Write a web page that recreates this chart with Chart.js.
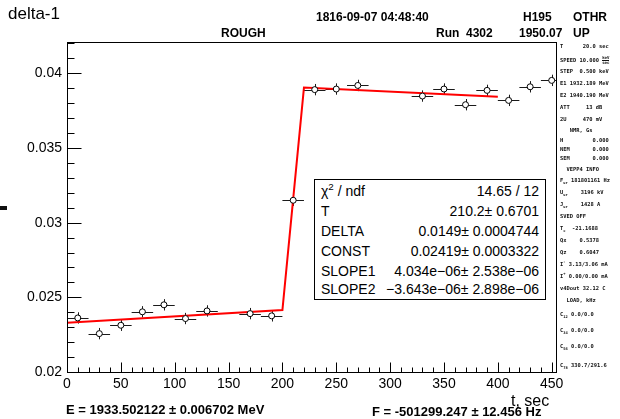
<!DOCTYPE html>
<html>
<head>
<meta charset="utf-8">
<script src="https://cdn.jsdelivr.net/npm/chart.js@4.4.1/dist/chart.umd.min.js"></script>
<style>
  html, body { margin: 0; padding: 0; background: #fff; }
  #wrap { position: relative; width: 620px; height: 419px; overflow: hidden;
          font-family: "Liberation Sans", Arial, Helvetica, sans-serif; color: #000; }
  #plot { position: absolute; left: 0; top: 0; }
  .t { position: absolute; white-space: nowrap; line-height: 1; }
  .b { font-weight: bold; }
  .hdr { font-size: 12px; font-weight: bold; }
  #stats { position: absolute; left: 314px; top: 179px; width: 232px; height: 121px;
           border: 1px solid #000; background: #fff; box-sizing: border-box; font-size: 14px; }
  #stats .row { position: absolute; left: 6px; right: 6px; height: 20px; line-height: 20px;
                display: flex; justify-content: space-between; white-space: nowrap; }
  #panel { position: absolute; left: 560px; top: 0; width: 60px; font-family: "DejaVu Sans Mono", monospace;
           font-size: 5.4px; font-weight: bold; color: #111; }
  #panel .ln { position: absolute; left: 0; white-space: pre; line-height: 1; }
  sub, sup { font-size: 70%; line-height: 0; }
  .frac { display: inline-block; vertical-align: middle; text-align: center; font-size: 4px; line-height: 4px; }
  .frac span { display: block; }
  .frac span:first-child { border-bottom: 0.5px solid #111; }
</style>
</head>
<body>
<div id="wrap">
  <canvas id="plot" width="620" height="419"></canvas>

  <div class="t" style="left:8px; top:5px; font-size:17px;">delta-1</div>
  <div class="t hdr" style="left:316px; top:11px;">1816-09-07 04:48:40</div>
  <div class="t hdr" style="left:523px; top:11px;">H195</div>
  <div class="t hdr" style="left:573px; top:11px;">OTHR</div>
  <div class="t hdr" style="left:221px; top:27px;">ROUGH</div>
  <div class="t hdr" style="left:436px; top:27px;">Run&nbsp; 4302</div>
  <div class="t hdr" style="left:519px; top:27px;">1950.07</div>
  <div class="t hdr" style="left:573px; top:27px;">UP</div>

  <div id="stats">
    <div class="row" style="top:1px;"><span>&chi;<sup>2</sup> / ndf</span><span>14.65 / 12</span></div>
    <div class="row" style="top:21px;"><span>T</span><span>210.2&plusmn; 0.6701</span></div>
    <div class="row" style="top:41px;"><span>DELTA</span><span>0.0149&plusmn; 0.0004744</span></div>
    <div class="row" style="top:61px;"><span>CONST</span><span>0.02419&plusmn; 0.0003322</span></div>
    <div class="row" style="top:81px;"><span>SLOPE1</span><span>4.034e&minus;06&plusmn; 2.538e&minus;06</span></div>
    <div class="row" style="top:99px;"><span>SLOPE2</span><span>&minus;3.643e&minus;06&plusmn; 2.898e&minus;06</span></div>
  </div>

  <div id="panel">
    <div class="ln" style="top:44px;">T      20.0 sec</div>
    <div class="ln" style="top:56px;">SPEED 10.000 <span class="frac"><span>keV</span><span>sec</span></span></div>
    <div class="ln" style="top:69px;">STEP  0.500 keV</div>
    <div class="ln" style="top:81px;">E1 1932.189 MeV</div>
    <div class="ln" style="top:93px;">E2 1940.190 MeV</div>
    <div class="ln" style="top:105px;">ATT     13 dB</div>
    <div class="ln" style="top:117px;">2U     470 mV</div>
    <div class="ln" style="top:128px;">   NMR, Gs</div>
    <div class="ln" style="top:138px;">H         0.000</div>
    <div class="ln" style="top:147px;">NEM       0.000</div>
    <div class="ln" style="top:156px;">SEM       0.000</div>
    <div class="ln" style="top:167px;">  VEPP4 INFO</div>
    <div class="ln" style="top:178px;">F<sub>ur</sub> 181801161 Hz</div>
    <div class="ln" style="top:190px;">U<sub>ur</sub>    3196 kV</div>
    <div class="ln" style="top:202px;">J<sub>ur</sub>    1428 A</div>
    <div class="ln" style="top:214px;">SVED OFF</div>
    <div class="ln" style="top:226px;">T<sub>c</sub>  -21.1688</div>
    <div class="ln" style="top:238px;">Qx    0.5378</div>
    <div class="ln" style="top:250px;">Qz    0.6047</div>
    <div class="ln" style="top:262px;">I<sup>-</sup> 3.13/3.06 mA</div>
    <div class="ln" style="top:274px;">I<sup>+</sup> 0.00/0.00 mA</div>
    <div class="ln" style="top:286px;">v4Dout 32.12 C</div>
    <div class="ln" style="top:298px;">  LOAD, kHz</div>
    <div class="ln" style="top:312px;">C<sub>12</sub> 0.0/0.0</div>
    <div class="ln" style="top:328px;">C<sub>34</sub> 0.0/0.0</div>
    <div class="ln" style="top:344px;">C<sub>56</sub> 0.0/0.0</div>
    <div class="ln" style="top:363px;">C<sub>78</sub> 330.7/291.6</div>
  </div>

  <div class="t" style="left:511px; top:393px; font-size:16px;">t, sec</div>
  <div class="t b" style="left:66px; top:403px; font-size:13px;">E = 1933.502122 &plusmn; 0.006702 MeV</div>
  <div class="t b" style="left:372px; top:405px; font-size:13px;">F = -501299.247 &plusmn; 12.456 Hz</div>

  <div style="position:absolute; left:0; top:206px; width:7px; height:4px; background:#111;"></div>
</div>

<script>
// Scan points: time (s), measured delta, and their errors
const times     = [10, 30, 50, 70, 90, 110, 130, 170, 190, 210, 230, 250, 270, 330, 350, 370, 390, 410, 430, 450];
const deltaVals = [0.02362, 0.02257, 0.02313, 0.02403, 0.02450, 0.02358, 0.02409, 0.02391, 0.02376, 0.03150,
                   0.03891, 0.03895, 0.03919, 0.03848, 0.03895, 0.03790, 0.03886, 0.03819, 0.03910, 0.03953];
const timeErr   = [10, 10, 10, 10, 10, 10, 10, 10, 10, 10, 10, 10, 10, 10, 10, 10, 10, 10, 10, 10];
const deltaErr  = [0.00038, 0.00038, 0.00038, 0.00038, 0.00038, 0.00038, 0.00038, 0.00038, 0.00038, 0.00038,
                   0.00038, 0.00038, 0.00038, 0.00038, 0.00038, 0.00038, 0.00038, 0.00038, 0.00038, 0.00038];

// Step fit: vertices of the fitted curve
const fitTimes = [0, 200, 220, 400];
const fitVals  = [0.02329, 0.02415, 0.03905, 0.03843];

// Axis ticks
const xTickValues = [0, 50, 100, 150, 200, 250, 300, 350, 400, 450];
const xTickLabels = ['0', '50', '100', '150', '200', '250', '300', '350', '400', '450'];
const yTickValues = [0.02, 0.025, 0.03, 0.035, 0.04];
const yTickLabels = ['0.02', '0.025', '0.03', '0.035', '0.04'];

const FONT = '"Liberation Sans", Arial, Helvetica, sans-serif';

const rootStyle = {
  id: 'rootStyle',
  beforeDatasetsDraw(chart) {
    const { ctx, scales: { x, y }, chartArea: a } = chart;
    ctx.save();
    ctx.beginPath();
    ctx.rect(a.left, a.top, a.right - a.left, a.bottom - a.top);
    ctx.clip();
    ctx.strokeStyle = '#1a1a1a';
    ctx.lineWidth = 1;
    ctx.beginPath();
    for (let i = 0; i < times.length; i++) {
      const px = Math.round(x.getPixelForValue(times[i])) + 0.5;
      const py = Math.round(y.getPixelForValue(deltaVals[i])) + 0.5;
      const x0 = x.getPixelForValue(times[i] - timeErr[i]);
      const x1 = x.getPixelForValue(times[i] + timeErr[i]);
      const y0 = y.getPixelForValue(deltaVals[i] - deltaErr[i]);
      const y1 = y.getPixelForValue(deltaVals[i] + deltaErr[i]);
      ctx.moveTo(x0, py); ctx.lineTo(x1, py);
      ctx.moveTo(px, y0); ctx.lineTo(px, y1);
    }
    ctx.stroke();
    ctx.restore();
  },
  afterDraw(chart) {
    const { ctx, scales: { x, y }, chartArea: a } = chart;
    ctx.save();
    ctx.strokeStyle = '#000';
    ctx.lineWidth = 1;
    const L = Math.round(a.left) + 0.5, R = Math.round(a.right) + 0.5;
    const T = Math.round(a.top) + 0.5, B = Math.round(a.bottom) + 0.5;
    ctx.strokeRect(L, T, R - L, B - T);
    ctx.beginPath();
    // x axis ticks, pointing into the frame
    for (let v = 0; v <= x.max; v += 10) {
      const px = Math.round(x.getPixelForValue(v)) + 0.5;
      const len = (v % 50 === 0) ? 10 : 5;
      ctx.moveTo(px, B); ctx.lineTo(px, B - len);
    }
    // y axis ticks
    for (let k = 0; 0.02 + k * 0.001 <= y.max + 1e-9; k++) {
      const v = 0.02 + k * 0.001;
      const py = Math.round(y.getPixelForValue(v)) + 0.5;
      const len = (k % 5 === 0) ? 14 : 7;
      ctx.moveTo(L, py); ctx.lineTo(L + len, py);
    }
    ctx.stroke();
    ctx.restore();
  }
};

new Chart(document.getElementById('plot'), {
  type: 'scatter',
  data: {
    datasets: [
      {
        label: 'delta',
        data: times.map((t, i) => ({ x: t, y: deltaVals[i] })),
        pointRadius: 3,
        pointBorderWidth: 1,
        pointBackgroundColor: '#fff',
        pointBorderColor: '#000',
        showLine: false,
        order: 0
      },
      {
        label: 'fit',
        type: 'line',
        data: fitTimes.map((t, i) => ({ x: t, y: fitVals[i] })),
        borderColor: '#ff0000',
        borderWidth: 2,
        pointRadius: 0,
        tension: 0,
        fill: false,
        order: 1
      }
    ]
  },
  options: {
    responsive: false,
    animation: false,
    devicePixelRatio: 1,
    layout: { padding: { top: 42, right: 64, left: 0, bottom: 0 } },
    plugins: { legend: { display: false }, tooltip: { enabled: false } },
    scales: {
      x: {
        type: 'linear',
        min: 0, max: 454,
        afterBuildTicks: s => { s.ticks = xTickValues.map(v => ({ value: v })); },
        afterFit: s => { s.height = 47; },
        ticks: {
          autoSkip: false, maxRotation: 0, padding: 4, color: '#000',
          font: { family: FONT, size: 14 },
          callback: (v, i) => xTickLabels[i]
        },
        grid: { display: false, drawTicks: false },
        border: { display: false }
      },
      y: {
        type: 'linear',
        min: 0.02, max: 0.0421,
        afterBuildTicks: s => { s.ticks = yTickValues.map(v => ({ value: v })); },
        afterFit: s => { s.width = 67; },
        ticks: {
          autoSkip: false, padding: 5, color: '#000',
          font: { family: FONT, size: 14 },
          callback: (v, i) => yTickLabels[i]
        },
        grid: { display: false, drawTicks: false },
        border: { display: false }
      }
    }
  },
  plugins: [rootStyle]
});
</script>
</body>
</html>
